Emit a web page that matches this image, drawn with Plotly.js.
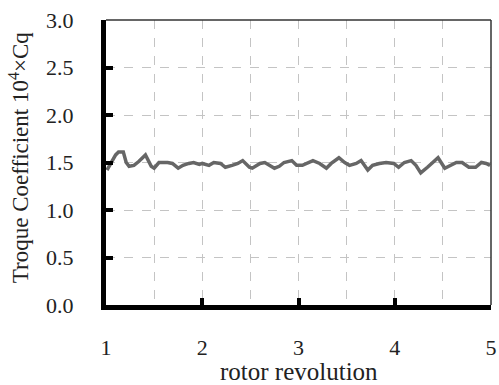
<!DOCTYPE html>
<html>
<head>
<meta charset="utf-8">
<script src="https://cdn.plot.ly/plotly-3.0.1.min.js"></script>
<style>
  html, body { margin: 0; padding: 0; background: #fff; }
  #chart { width: 499px; height: 385px; }
</style>
</head>
<body>
<div id="chart"></div>
<script>
// Torque coefficient over rotor revolutions
const revolution = [
  1.01, 1.05, 1.10, 1.13, 1.18, 1.21, 1.24, 1.29, 1.34, 1.41,
  1.47, 1.50, 1.55, 1.64, 1.69, 1.75, 1.80, 1.86, 1.91, 1.97,
  2.00, 2.07, 2.12, 2.19, 2.24, 2.31, 2.37, 2.42, 2.49, 2.52,
  2.60, 2.65, 2.70, 2.75, 2.80, 2.85, 2.93, 2.98, 3.04, 3.10,
  3.15, 3.22, 3.29, 3.34, 3.42, 3.48, 3.53, 3.60, 3.65, 3.72,
  3.77, 3.84, 3.91, 3.99, 4.04, 4.10, 4.17, 4.22, 4.27, 4.34,
  4.40, 4.45, 4.52, 4.59, 4.64, 4.70, 4.77, 4.84, 4.90, 4.95,
  4.99
];
const torqueCq = [
  1.42, 1.49, 1.58, 1.61, 1.61, 1.50, 1.46, 1.47, 1.51, 1.58,
  1.46, 1.44, 1.50, 1.50, 1.49, 1.44, 1.47, 1.49, 1.50, 1.48,
  1.49, 1.47, 1.50, 1.49, 1.45, 1.47, 1.49, 1.52, 1.45, 1.44,
  1.49, 1.50, 1.47, 1.44, 1.46, 1.50, 1.52, 1.47, 1.47, 1.50,
  1.52, 1.49, 1.44, 1.49, 1.55, 1.50, 1.47, 1.49, 1.52, 1.42,
  1.47, 1.49, 1.50, 1.49, 1.45, 1.50, 1.52, 1.47, 1.39, 1.45,
  1.50, 1.55, 1.44, 1.47, 1.50, 1.50, 1.45, 1.45, 1.50, 1.49,
  1.47
];
const xTicks = [1, 2, 3, 4, 5];
const yTicks = [0, 0.5, 1.0, 1.5, 2.0, 2.5, 3.0];

const serif = '"Liberation Serif", "Times New Roman", serif';
const gridColor = '#c4c4c4';
const textColor = '#222';

const trace = {
  x: revolution,
  y: torqueCq,
  mode: 'lines',
  line: { color: '#666666', width: 3.5 },
  hoverinfo: 'skip'
};

// y tick labels sit well left of the thick axis line
const yLabels = yTicks.map(v => ({
  text: v.toFixed(1),
  xref: 'paper', yref: 'y',
  x: -0.078, y: v,
  xanchor: 'right', yanchor: 'middle',
  showarrow: false,
  font: { family: serif, size: 22, color: textColor }
}));

const layout = {
  width: 499,
  height: 385,
  margin: { l: 106, r: 8, t: 20, b: 80 },
  paper_bgcolor: '#ffffff',
  plot_bgcolor: '#ffffff',
  showlegend: false,
  font: { family: serif, color: textColor },
  xaxis: {
    range: [1, 5],
    tickmode: 'array',
    tickvals: xTicks,
    ticktext: xTicks.map(String),
    ticks: 'inside',
    ticklen: 7,
    tickwidth: 4,
    tickcolor: '#000',
    ticklabelstandoff: 19,
    tickfont: { family: serif, size: 22, color: textColor },
    showline: true,
    linecolor: '#000',
    linewidth: 5,
    showgrid: true,
    gridcolor: gridColor,
    griddash: 'dash',
    gridwidth: 1,
    minor: { tick0: 1, dtick: 0.5, showgrid: true, gridcolor: gridColor, griddash: 'dash', gridwidth: 1, ticks: '' },
    zeroline: false,
    fixedrange: true
  },
  yaxis: {
    range: [0, 3],
    tickmode: 'array',
    tickvals: yTicks,
    showticklabels: false,
    ticks: 'inside',
    ticklen: 7,
    tickwidth: 4,
    tickcolor: '#000',
    showline: true,
    linecolor: '#000',
    linewidth: 5,
    showgrid: true,
    gridcolor: gridColor,
    griddash: 'dash',
    gridwidth: 1,
    zeroline: false,
    fixedrange: true
  },
  shapes: [
    { type: 'line', xref: 'paper', yref: 'paper', x0: 0, x1: 1, y0: 1, y1: 1, line: { color: '#333', width: 1.5 } },
    { type: 'line', xref: 'paper', yref: 'paper', x0: 1, x1: 1, y0: 0, y1: 1, line: { color: '#333', width: 1.5 } }
  ],
  annotations: yLabels.concat([
    {
      // y-axis title
      text: 'Troque Coefficient 10<sup>4</sup>×Cq',
      xref: 'paper', yref: 'paper',
      x: -0.225, y: 0.52,
      xanchor: 'center', yanchor: 'middle',
      textangle: -90,
      showarrow: false,
      font: { family: serif, size: 23, color: textColor }
    },
    {
      // x-axis title
      text: 'rotor revolution',
      xref: 'paper', yref: 'paper',
      x: 0.5, y: -0.232,
      xanchor: 'center', yanchor: 'middle',
      showarrow: false,
      font: { family: serif, size: 25, color: textColor }
    }
  ])
};

Plotly.newPlot('chart', [trace], layout, { displayModeBar: false, staticPlot: true });
</script>
</body>
</html>
